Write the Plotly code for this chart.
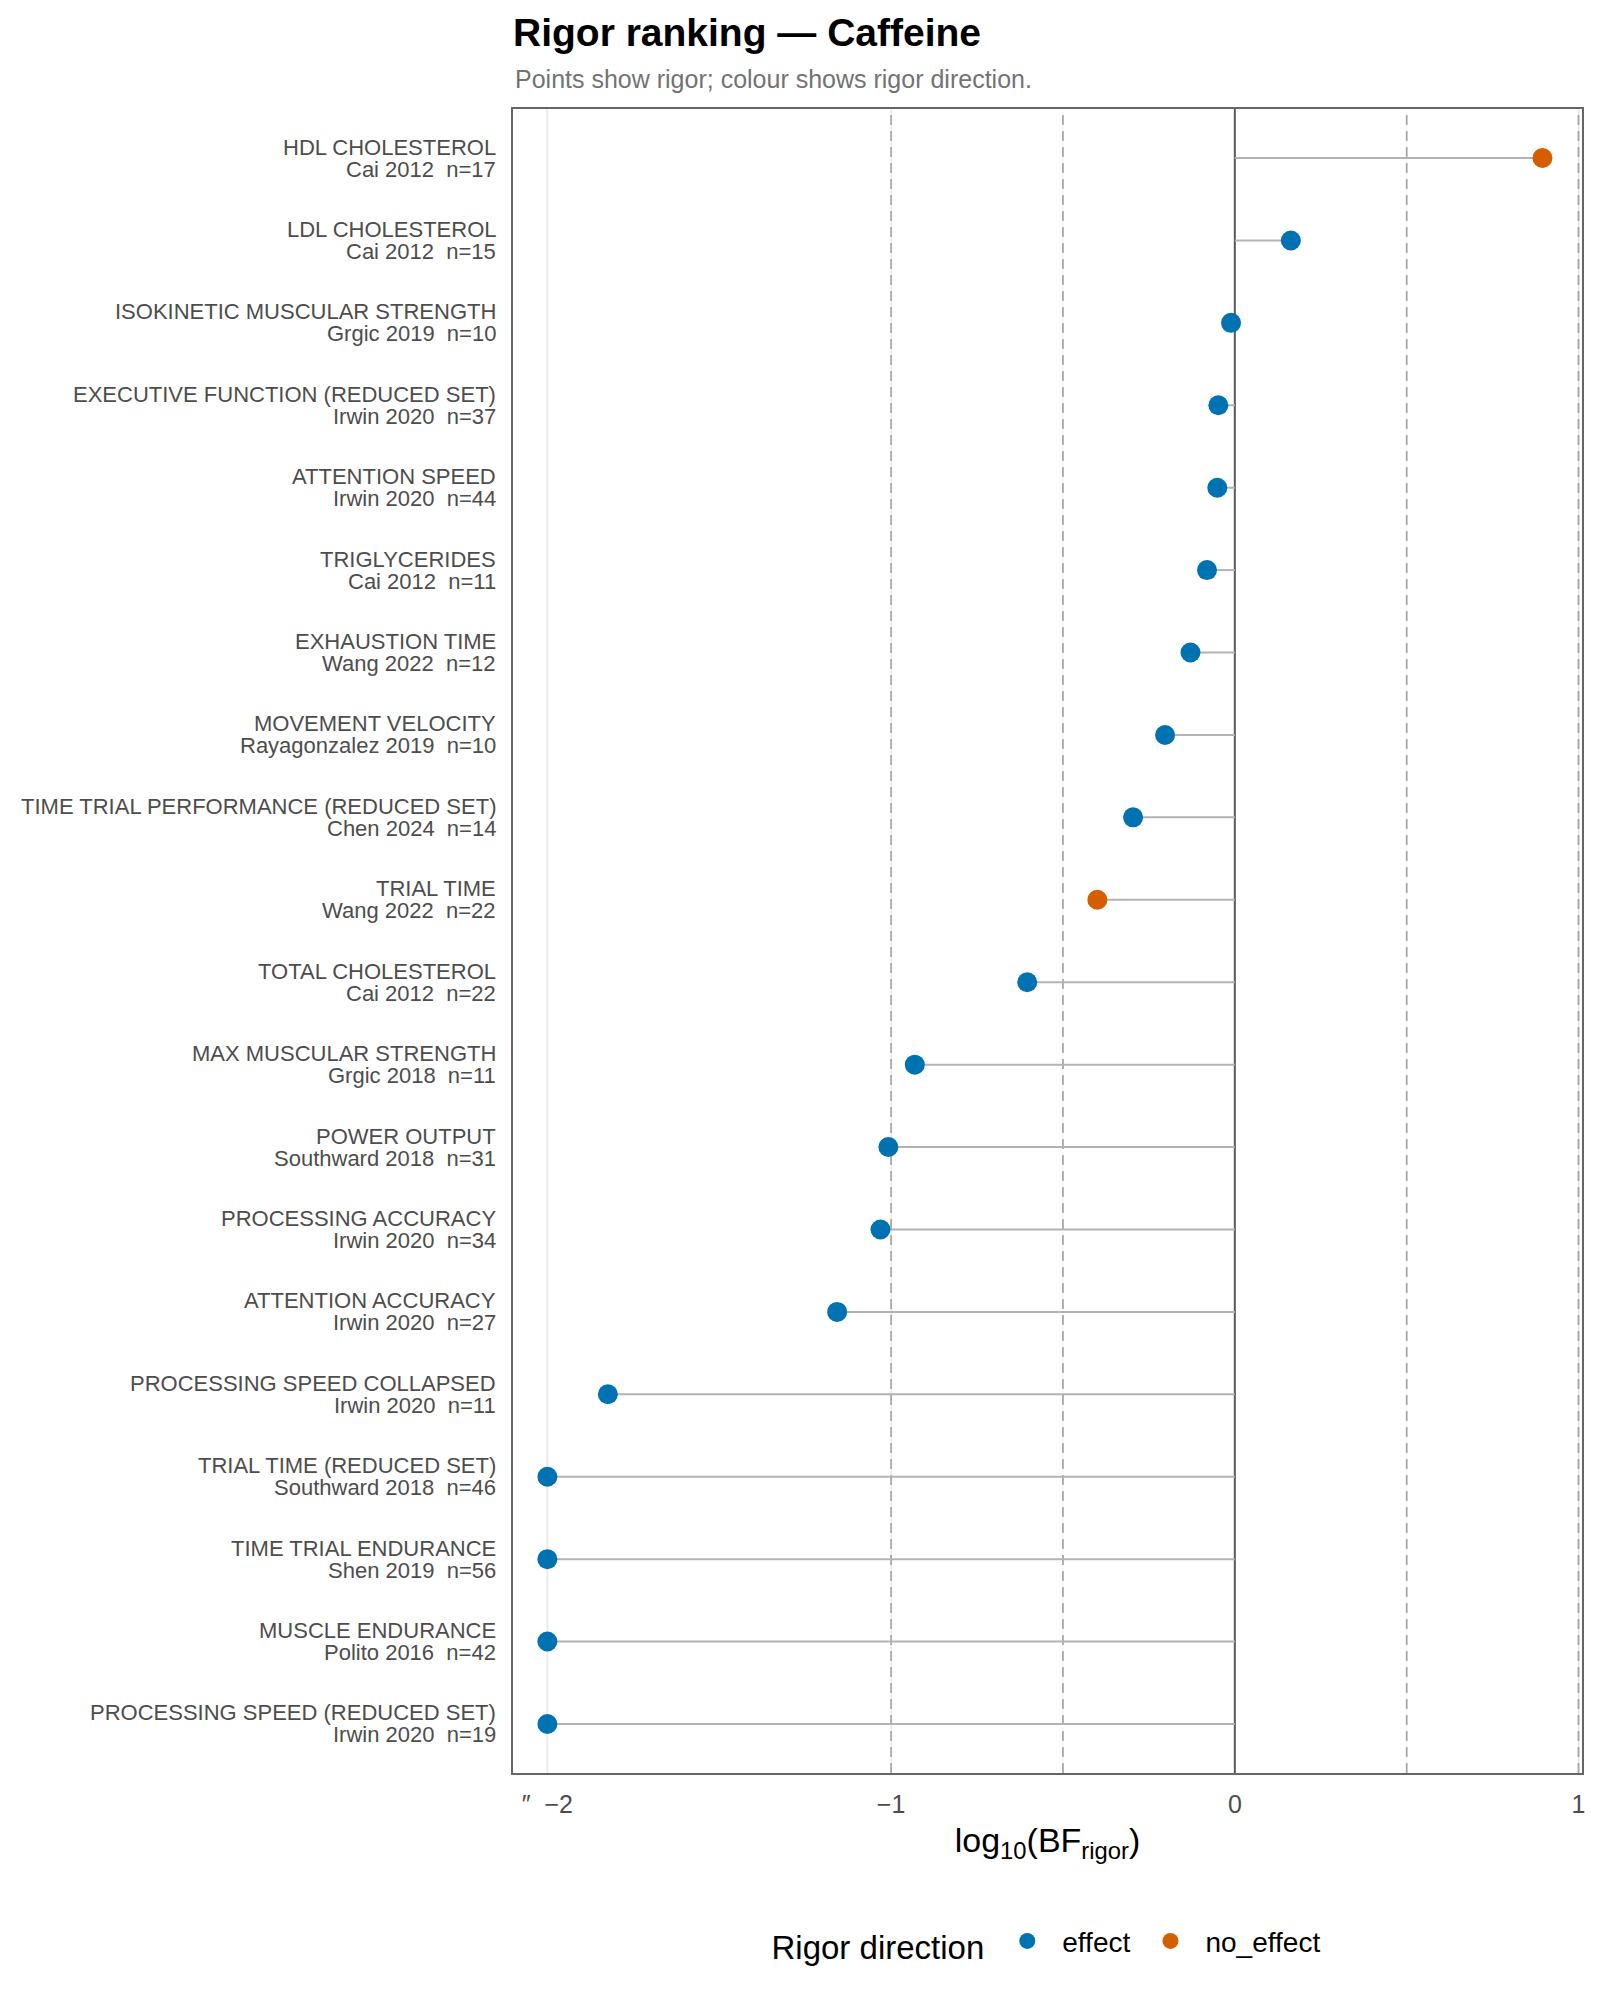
import plotly.graph_objects as go

measures = ["HDL CHOLESTEROL", "LDL CHOLESTEROL", "ISOKINETIC MUSCULAR STRENGTH",
            "EXECUTIVE FUNCTION (REDUCED SET)", "ATTENTION SPEED", "TRIGLYCERIDES",
            "EXHAUSTION TIME", "MOVEMENT VELOCITY", "TIME TRIAL PERFORMANCE (REDUCED SET)",
            "TRIAL TIME", "TOTAL CHOLESTEROL", "MAX MUSCULAR STRENGTH", "POWER OUTPUT",
            "PROCESSING ACCURACY", "ATTENTION ACCURACY", "PROCESSING SPEED COLLAPSED",
            "TRIAL TIME (REDUCED SET)", "TIME TRIAL ENDURANCE", "MUSCLE ENDURANCE",
            "PROCESSING SPEED (REDUCED SET)"]
studies = ["Cai 2012", "Cai 2012", "Grgic 2019", "Irwin 2020", "Irwin 2020", "Cai 2012",
           "Wang 2022", "Rayagonzalez 2019", "Chen 2024", "Wang 2022", "Cai 2012",
           "Grgic 2018", "Southward 2018", "Irwin 2020", "Irwin 2020", "Irwin 2020",
           "Southward 2018", "Shen 2019", "Polito 2016", "Irwin 2020"]
n_obs = [17, 15, 10, 37, 44, 11, 12, 10, 14, 22, 22, 11, 31, 34, 27, 11, 46, 56, 42, 19]
log_bf = [0.895, 0.163, -0.011, -0.048, -0.051, -0.081, -0.129, -0.203, -0.296, -0.40,
          -0.604, -0.931, -1.008, -1.031, -1.157, -1.824, -2.0, -2.0, -2.0, -2.0]
direction = ["no_effect", "effect", "effect", "effect", "effect", "effect", "effect",
             "effect", "effect", "no_effect", "effect", "effect", "effect", "effect",
             "effect", "effect", "effect", "effect", "effect", "effect"]
thresholds = [-1, -0.5, 0.5, 1]
grid_vals = [-2, -1, 1]
x_tickvals = [-2, -1, 0, 1]
x_ticktext = ["\u2033\u00a0\u00a0\u22122", "\u22121", "0", "1"]
colors = {"effect": "#0072B2", "no_effect": "#D55E00"}

FONT = "Liberation Sans, Arial, sans-serif"
fig = go.Figure()

# lollipop stems
sx, sy = [], []
for m, v in zip(measures, log_bf):
    sx += [0, v, None]
    sy += [m, m, None]
fig.add_trace(go.Scatter(x=sx, y=sy, mode="lines", line=dict(color="#b3b3b3", width=2),
                         showlegend=False, hoverinfo="skip"))

for d in ["effect", "no_effect"]:
    xs = [v for v, dd in zip(log_bf, direction) if dd == d]
    ys = [m for m, dd in zip(measures, direction) if dd == d]
    fig.add_trace(go.Scatter(x=xs, y=ys, mode="markers", name=d,
                             marker=dict(color=colors[d], size=20, line=dict(width=0))))

shapes = []
for g in grid_vals:
    shapes.append(dict(type="line", xref="x", yref="paper", x0=g, x1=g, y0=0, y1=1,
                       line=dict(color="#ebebeb", width=2), layer="below"))
for t in thresholds:
    shapes.append(dict(type="line", xref="x", yref="paper", x0=t, x1=t, y0=0, y1=1,
                       line=dict(color="#a8a8a8", width=1.8, dash="10px,6px"), layer="below"))
shapes.append(dict(type="line", xref="x", yref="paper", x0=0, x1=0, y0=0, y1=1,
                   line=dict(color="#595959", width=2), layer="below"))

annotations = []
for m, s, nn in zip(measures, studies, n_obs):
    annotations.append(dict(x=0, xref="paper", y=m, yref="y", text=m, showarrow=False,
                            xanchor="right", yanchor="middle", xshift=-15, yshift=11,
                            font=dict(size=22, color="#4d4d4d", family=FONT)))
    annotations.append(dict(x=0, xref="paper", y=m, yref="y",
                            text=f"{s}\u00a0\u00a0n={nn}", showarrow=False,
                            xanchor="right", yanchor="middle", xshift=-15, yshift=-11,
                            font=dict(size=22, color="#4d4d4d", family=FONT)))
annotations.append(dict(x=0, xref="paper", y=1.018, yref="paper",
                        text="Points show rigor; colour shows rigor direction.",
                        showarrow=False, xanchor="left", yanchor="middle",
                        font=dict(size=25, color="#737373", family=FONT)))

fig.update_layout(
    width=1600, height=2000,
    margin=dict(l=513, r=18, t=109, b=227),
    plot_bgcolor="white", paper_bgcolor="white",
    font=dict(family=FONT, color="black"),
    title=dict(text="<b>Rigor ranking \u2014 Caffeine</b>", x=513 / 1600, xref="container",
               xanchor="left", y=1 - 32 / 2000, yref="container", yanchor="middle",
               font=dict(size=39, color="black", family=FONT)),
    xaxis=dict(range=[-2.1, 1.01], tickvals=x_tickvals, ticktext=x_ticktext,
               tickfont=dict(size=25, color="#4d4d4d"), ticks="", ticklabelstandoff=8,
               showgrid=False, zeroline=False,
               showline=True, mirror=True, linecolor="#666666", linewidth=2,
               title=dict(text="log<sub>10</sub>(BF<sub>rigor</sub>)",
                          font=dict(size=34, color="black"), standoff=11)),
    yaxis=dict(type="category", categoryorder="array", categoryarray=measures,
               range=[len(measures) - 1 + 0.595, -0.595], showticklabels=False,
               showgrid=False, zeroline=False, showline=True, mirror=True,
               linecolor="#666666", linewidth=2, ticks=""),
    legend=dict(orientation="h", x=0.5, xanchor="center", y=-0.102, yanchor="middle",
                title=dict(text="Rigor direction", font=dict(size=33, color="black")),
                font=dict(size=28, color="black"), itemwidth=60),
    shapes=shapes, annotations=annotations,
)

fig.write_html("out.html")
